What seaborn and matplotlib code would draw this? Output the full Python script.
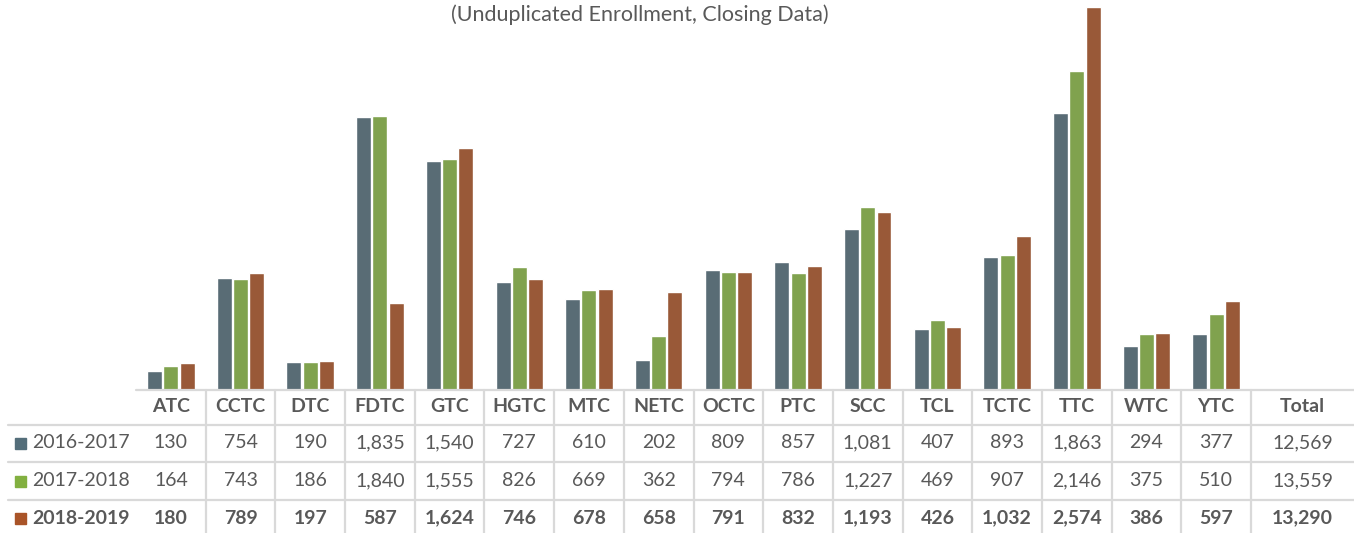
import matplotlib.pyplot as plt
import matplotlib.transforms as mtransforms
from matplotlib.lines import Line2D
from matplotlib.patches import Rectangle
import pandas as pd
import seaborn as sns

colleges = ["ATC", "CCTC", "DTC", "FDTC", "GTC", "HGTC", "MTC", "NETC", "OCTC",
            "PTC", "SCC", "TCL", "TCTC", "TTC", "WTC", "YTC"]
years = ["2016-2017", "2017-2018", "2018-2019"]
enr_2016 = [130, 754, 190, 1835, 1540, 727, 610, 202, 809, 857, 1081, 407, 893, 1863, 294, 377]
enr_2017 = [164, 743, 186, 1840, 1555, 826, 669, 362, 794, 786, 1227, 469, 907, 2146, 375, 510]
enr_2018 = [180, 789, 197, 587, 1624, 746, 678, 658, 791, 832, 1193, 426, 1032, 2574, 386, 597]
totals = [12569, 13559, 13290]
colors = ["#546E7A", "#82B040", "#A95428"]

W, H = 1354, 533
GRID = "#D9D9D9"
TXT = "#595959"


def fx(x):
    return x / W


def fy(y):
    return 1 - y / H


series = [enr_2016, enr_2017, enr_2018]
rows = []
for yr, vals in zip(years, series):
    for c, v in zip(colleges, vals):
        rows.append({"College": c, "Year": yr, "Enrollment": v})
df = pd.DataFrame(rows)

sns.set_theme(style="white")
plt.rcParams["font.family"] = ["Lato", "DejaVu Sans"]

fig = plt.figure(figsize=(W / 100, H / 100), dpi=100)
ax = fig.add_axes([fx(136), fy(390), 1 - fx(136), 390 / H])
sns.barplot(data=df, x="College", y="Enrollment", hue="Year", palette=colors,
            width=0.7, gap=0.08, ax=ax, legend=False)

xmax = 15.5 + (1354 - 1251) / 69.7
ax.set_xlim(-0.5, xmax)
ax.set_ylim(0, 2620)
ax.set_axis_off()

fig.text(fx(640), fy(15), "(Unduplicated Enrollment, Closing Data)", ha="center",
         va="center", fontsize=15.5, color=TXT)

trans = mtransforms.blended_transform_factory(ax.transData, fig.transFigure)

# table grid
fig.add_artist(Line2D([fx(136), 1], [fy(390), fy(390)], color=GRID, lw=1.6,
                      transform=fig.transFigure))
for y in [425, 462, 500]:
    fig.add_artist(Line2D([fx(8), 1], [fy(y), fy(y)], color=GRID, lw=1.6,
                          transform=fig.transFigure))
for i in range(len(colleges)):
    fig.add_artist(Line2D([i + 0.5, i + 0.5], [fy(390), 0], color=GRID, lw=1.6,
                          transform=trans))

# header
row_y = [443, 481, 518]
for i, c in enumerate(colleges):
    fig.text(i, fy(407), c, transform=trans, ha="center", va="center",
             fontsize=14, fontweight="bold", color=TXT)
tot_x = (15.5 + xmax) / 2
fig.text(tot_x, fy(407), "Total", transform=trans, ha="center", va="center",
         fontsize=14, fontweight="bold", color=TXT)

# rows
for r, (yr, vals) in enumerate(zip(years, series)):
    weight = "bold" if r == 2 else "normal"
    yy = fy(row_y[r])
    fig.add_artist(Rectangle((fx(15), yy - 5.5 / H), 11 / W, 11 / H,
                             color=colors[r], transform=fig.transFigure))
    fig.text(fx(32), yy, yr, ha="left", va="center", fontsize=14,
             fontweight=weight, color=TXT)
    for i, v in enumerate(vals):
        fig.text(i, yy, f"{v:,}", transform=trans, ha="center", va="center",
                 fontsize=14, fontweight=weight, color=TXT)
    fig.text(tot_x, yy, f"{totals[r]:,}", transform=trans, ha="center",
             va="center", fontsize=14, fontweight=weight, color=TXT)

fig.savefig("out.png", dpi=100)
